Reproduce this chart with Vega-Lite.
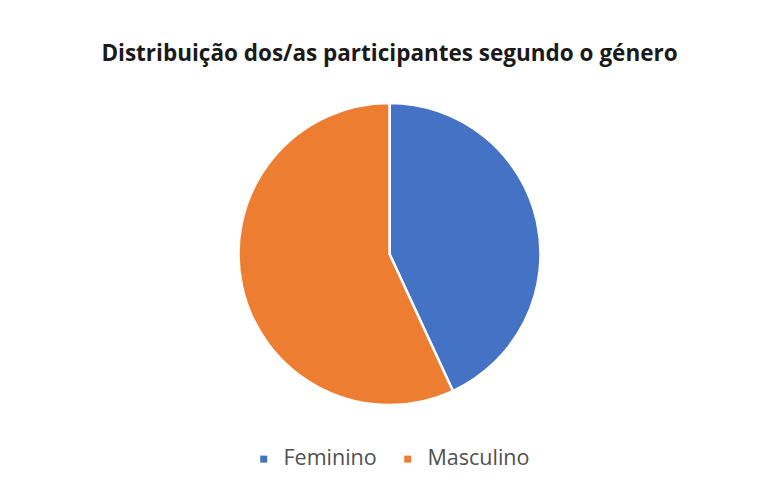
{
  "$schema": "https://vega.github.io/schema/vega-lite/v6.json",
  "autosize": {"type": "none"},
  "width": 737,
  "height": 474,
  "padding": {"left": 21, "top": 17, "right": 0, "bottom": 0},
  "background": "white",
  "title": {
    "text": "Distribuição dos/as participantes segundo o género",
    "font": "Open Sans",
    "fontSize": 22.5,
    "fontWeight": "bold",
    "color": "#1a1a1a",
    "anchor": "middle",
    "offset": -48
  },
  "data": {
    "values": [
      {"genero": "Feminino", "percent": 43.1},
      {"genero": "Masculino", "percent": 56.9}
    ]
  },
  "mark": {"type": "arc", "outerRadius": 151, "stroke": "white", "strokeWidth": 2.5},
  "encoding": {
    "theta": {"field": "percent", "type": "quantitative", "stack": true},
    "order": {"field": "genero", "sort": "ascending"},
    "color": {
      "field": "genero",
      "type": "nominal",
      "scale": {"domain": ["Feminino", "Masculino"], "range": ["#4472C4", "#ED7D31"]},
      "legend": {
        "title": null,
        "orient": "none",
        "legendX": 232,
        "legendY": 431,
        "direction": "horizontal",
        "columns": 2,
        "symbolType": "square",
        "symbolSize": 49,
        "symbolStrokeWidth": 0,
        "labelFont": "Open Sans",
        "labelFontSize": 21.5,
        "labelColor": "#505050",
        "labelOffset": 9,
        "columnPadding": 20
      }
    }
  },
  "config": {"view": {"stroke": null}}
}
